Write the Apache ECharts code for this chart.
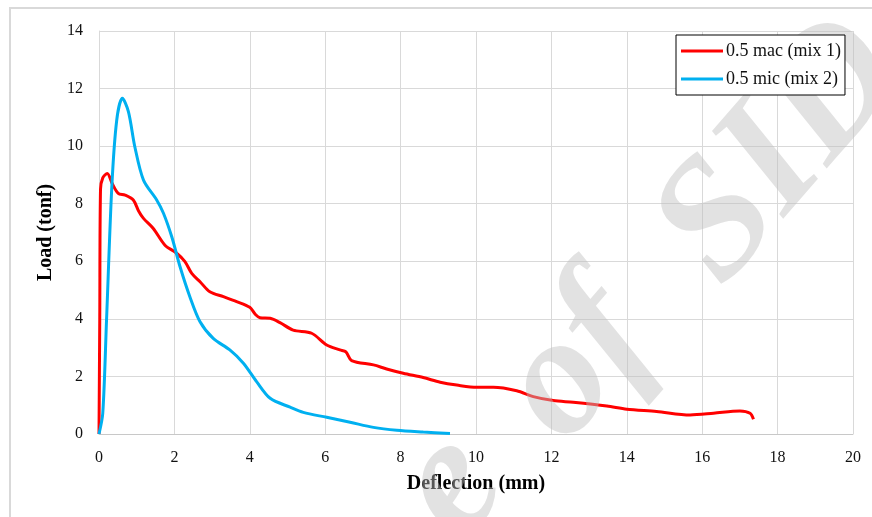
<!DOCTYPE html>
<html>
<head>
<meta charset="utf-8">
<script src="https://cdn.jsdelivr.net/npm/echarts@6/dist/echarts.min.js"></script>
<style>html,body{margin:0;padding:0;background:#fff}#c{width:872px;height:517px}</style>
</head>
<body>
<div id="c"></div>
<script>
var seriesNames = ['0.5 mac (mix 1)', '0.5 mic (mix 2)'];
var macX = [0, 0.02, 0.04, 0.1, 0.22, 0.35, 0.51, 0.69, 0.91, 1.05, 1.18, 1.44, 1.75, 2.06, 2.28, 2.46, 2.68, 2.94, 3.3, 3.65, 4.0, 4.15, 4.27, 4.54, 4.8, 5.15, 5.64, 6.04, 6.39, 6.55, 6.7, 7.28, 7.63, 8.07, 8.6, 9.05, 9.49, 10.02, 10.46, 11.08, 11.52, 12.05, 12.58, 13.47, 14.0, 14.79, 15.68, 16.3, 17.0, 17.27, 17.36];
var macY = [0, 4.0, 8.5, 8.9, 9.05, 8.7, 8.36, 8.30, 8.13, 7.75, 7.49, 7.14, 6.56, 6.28, 5.99, 5.58, 5.29, 4.94, 4.77, 4.60, 4.40, 4.15, 4.04, 4.02, 3.87, 3.61, 3.50, 3.09, 2.92, 2.85, 2.55, 2.40, 2.26, 2.11, 1.96, 1.80, 1.70, 1.62, 1.62, 1.50, 1.30, 1.16, 1.10, 0.97, 0.86, 0.78, 0.66, 0.72, 0.80, 0.72, 0.51];
var micX = [0, 0.1, 0.2, 0.34, 0.47, 0.62, 0.78, 0.95, 1.18, 1.53, 1.71, 1.93, 2.15, 2.41, 2.68, 3.03, 3.47, 3.83, 4.18, 4.54, 5.07, 5.42, 6.04, 6.66, 7.28, 7.9, 8.6, 9.31];
var micY = [0, 0.72, 3.96, 8.59, 10.9, 11.66, 11.2, 9.98, 8.82, 8.13, 7.67, 6.85, 5.81, 4.77, 3.90, 3.32, 2.92, 2.46, 1.82, 1.24, 0.93, 0.75, 0.58, 0.41, 0.23, 0.13, 0.07, 0.02];
var xName = 'Deflection (mm)';
var yName = 'Load (tonf)';
var watermarkParts = ['e', 'of', 'SID'];

function pairs(xs, ys) { return xs.map(function (x, i) { return [x, ys[i]]; }); }

var serif = '"Liberation Serif", "Times New Roman", serif';
var wmRot = 49 * Math.PI / 180;
var wmPos = [[452, 488], [579, 364], [782, 153]];
function wm(i) {
  return { type: 'text', x: wmPos[i][0], y: wmPos[i][1], rotation: wmRot, z: 5, silent: true,
    style: { text: watermarkParts[i], font: 'italic bold 170px ' + serif, fill: 'rgba(190,190,190,0.45)', align: 'center', verticalAlign: 'middle' } };
}

var chart = echarts.init(document.getElementById('c'), null, { renderer: 'canvas' });
chart.setOption({
  backgroundColor: '#fff',
  animation: false,
  graphic: [
    { type: 'rect', shape: { x: 10, y: 8, width: 880, height: 530 }, style: { fill: 'none', stroke: '#d9d9d9', lineWidth: 2 }, z: 0 },
    wm(0), wm(1), wm(2)
  ],
  grid: { left: 99, right: 19, top: 31, bottom: 83, show: false },
  legend: {
    orient: 'vertical', left: 676, top: 35, z: 20,
    padding: [7, 4, 7, 5], itemGap: 10, itemWidth: 42, itemHeight: 3,
    icon: 'rect',
    borderColor: '#000', borderWidth: 1, backgroundColor: '#fff',
    textStyle: { fontFamily: serif, fontSize: 18, lineHeight: 18, color: '#111', padding: [0, 0, 0, -2] },
    data: seriesNames
  },
  xAxis: {
    type: 'value', min: 0, max: 20, interval: 2,
    name: xName, nameLocation: 'middle', nameGap: 40,
    nameTextStyle: { fontFamily: serif, fontSize: 20, fontWeight: 'bold', color: '#000' },
    axisLine: { show: true, lineStyle: { color: '#c8c8c8', width: 1 } },
    axisTick: { show: false },
    axisLabel: { fontFamily: serif, fontSize: 16, color: '#111', margin: 16 },
    splitLine: { show: true, lineStyle: { color: '#d9d9d9', width: 1 } }
  },
  yAxis: {
    type: 'value', min: 0, max: 14, interval: 2,
    name: yName, nameLocation: 'middle', nameGap: 42,
    nameTextStyle: { fontFamily: serif, fontSize: 20, fontWeight: 'bold', color: '#000' },
    axisLine: { show: true, lineStyle: { color: '#d9d9d9', width: 1 } },
    axisTick: { show: false },
    axisLabel: { fontFamily: serif, fontSize: 16, color: '#111', margin: 16 },
    splitLine: { show: true, lineStyle: { color: '#d9d9d9', width: 1 } }
  },
  series: [
    { name: seriesNames[0], type: 'line', data: pairs(macX, macY), showSymbol: false, symbol: 'none', smooth: 0.3,
      lineStyle: { color: '#ff0000', width: 3 }, itemStyle: { color: '#ff0000' }, z: 3 },
    { name: seriesNames[1], type: 'line', data: pairs(micX, micY), showSymbol: false, symbol: 'none', smooth: 0.3,
      lineStyle: { color: '#00b0f0', width: 3 }, itemStyle: { color: '#00b0f0' }, z: 4 }
  ]
});
</script>
</body>
</html>
